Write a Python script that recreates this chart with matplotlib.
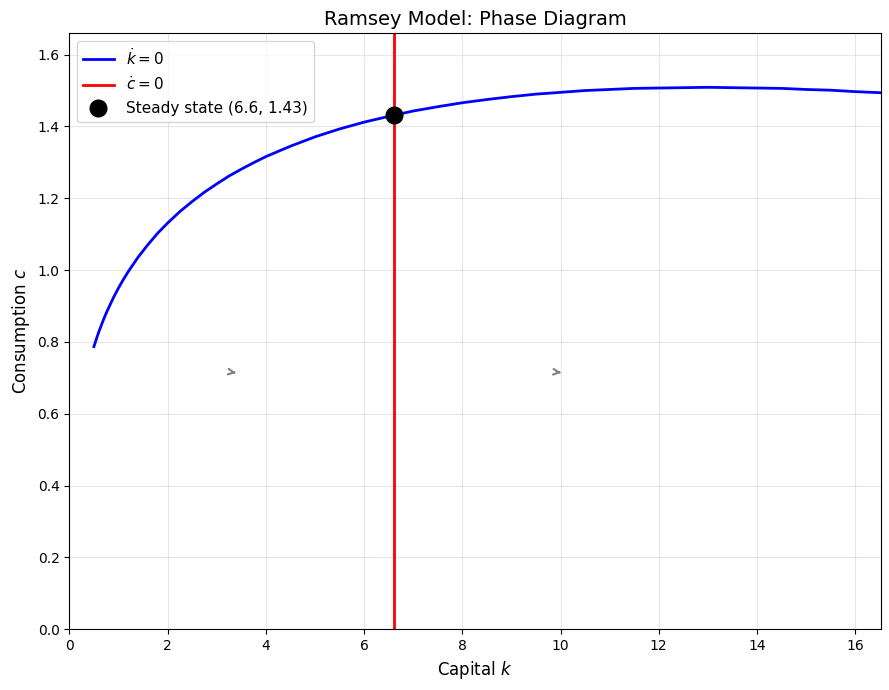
import numpy as np
import matplotlib.pyplot as plt

# k-dot = 0 locus
k_values = [0.5, 0.55, 0.6, 0.65, 0.7, 0.75, 0.8, 0.9, 1.0, 1.1, 1.2, 1.4, 1.6, 1.8,
            2.0, 2.25, 2.5, 2.75, 3.0, 3.25, 3.5, 3.75, 4.0, 4.5, 5.0, 5.5, 6.0,
            6.5, 7.0, 7.5, 8.0, 8.5, 9.0, 9.5, 10.0, 10.5, 11.0, 11.5, 12.0, 12.5,
            13.0, 13.5, 14.0, 14.5, 15.0, 15.5, 16.0, 16.5]
c_values = [0.787, 0.808, 0.828, 0.846, 0.864, 0.880, 0.895, 0.924, 0.950, 0.974,
            0.996, 1.036, 1.071, 1.103, 1.131, 1.163, 1.191, 1.217, 1.240, 1.262,
            1.281, 1.299, 1.316, 1.345, 1.371, 1.393, 1.412, 1.428, 1.443, 1.455,
            1.466, 1.475, 1.483, 1.490, 1.495, 1.500, 1.503, 1.506, 1.507, 1.508,
            1.509, 1.508, 1.507, 1.506, 1.503, 1.501, 1.497, 1.494]

k_ss = 6.61
c_ss = 1.432

# direction arrows
arrow_k = [3.3, 9.92]
arrow_c = [0.716, 0.716]
arrow_dk = [0.15, 0.15]
arrow_dc = [-0.003, -0.002]

fig = plt.figure(figsize=(8.89, 6.9), dpi=100)
ax = fig.add_axes([0.078, 0.088, 0.913, 0.864])
ax.plot(k_values, c_values, color='blue', lw=2, label=r'$\dot{k}=0$')
ax.axvline(k_ss, color='red', lw=2, label=r'$\dot{c}=0$')
ax.plot(k_ss, c_ss, 'ko', markersize=12, label=f'Steady state ({k_ss:.1f}, {c_ss:.2f})')
for k, c, dk, dc in zip(arrow_k, arrow_c, arrow_dk, arrow_dc):
    ax.annotate('', xy=(k + dk, c + dc), xytext=(k, c),
                arrowprops=dict(arrowstyle='->', color='gray', lw=1.5))

ax.set_xlim(0, 2.5 * k_ss)
ax.set_ylim(0, 1.1 * max(c_values))
ax.set_xlabel('Capital $k$', fontsize=12)
ax.set_ylabel('Consumption $c$', fontsize=12)
ax.set_title('Ramsey Model: Phase Diagram', fontsize=14)
ax.legend(fontsize=11, loc='upper left')
ax.grid(True, alpha=0.3)
plt.savefig('out.png')
